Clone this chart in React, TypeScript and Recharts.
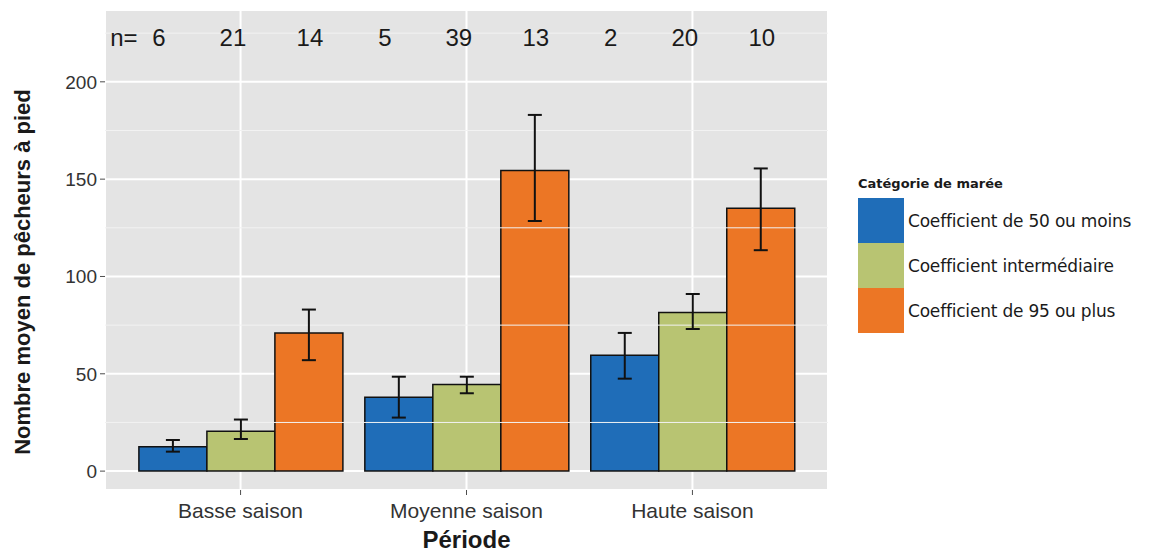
import { BarChart, Bar, XAxis, YAxis, CartesianGrid, Legend, ErrorBar, LabelList, ReferenceLine } from "recharts"

const periods = ["Basse saison", "Moyenne saison", "Haute saison"]
const seriesNames = ["Coefficient de 50 ou moins", "Coefficient intermédiaire", "Coefficient de 95 ou plus"]
const seriesColors = ["#1f6db8", "#b8c472", "#ec7625"]

// mean, lower and upper bound of error bars, sample size for each category
const lowMean = [12.5, 38, 59.5]
const lowLower = [10, 27.5, 47.5]
const lowUpper = [16, 48.5, 71]
const lowN = [6, 5, 2]

const midMean = [20.5, 44.5, 81.5]
const midLower = [16.5, 40, 73]
const midUpper = [26.5, 48.5, 91]
const midN = [21, 39, 20]

const highMean = [71, 154.5, 135]
const highLower = [57, 128.5, 113.5]
const highUpper = [83, 183, 155.5]
const highN = [14, 13, 10]

const yTicks = [0, 50, 100, 150, 200]
const yMinor = [25, 75, 125, 175, 225]

const means = [lowMean, midMean, highMean]
const lowers = [lowLower, midLower, highLower]
const uppers = [lowUpper, midUpper, highUpper]
const counts = [lowN, midN, highN]

const data = periods.map((period, i) => {
  const row: any = { period }
  means.forEach((m, s) => {
    row[`s${s}`] = m[i]
    row[`s${s}err`] = [m[i] - lowers[s][i], uppers[s][i] - m[i]]
    row[`s${s}n`] = counts[s][i]
  })
  return row
})

const nShift = [-14, -8, 1]
const SANS = "'Liberation Sans', Arial, sans-serif"

const makeCountLabel = (s: number) => (props: any) => {
  const { x, width, value, index } = props
  const cx = x + width / 2 + nShift[s]
  return (
    <g>
      {s === 0 && index === 0 && (
        <text x={cx - 35} y={29} dy="0.36em" textAnchor="middle" fontSize={24} fill="#1a1a1a" fontFamily={SANS}>
          n=
        </text>
      )}
      <text x={cx} y={29} dy="0.36em" textAnchor="middle" fontSize={24} fill="#1a1a1a" fontFamily={SANS}>
        {value}
      </text>
    </g>
  )
}

function LegendBox() {
  return (
    <div style={{ fontFamily: "'DejaVu Sans', sans-serif", color: "#1a1a1a" }}>
      <div style={{ fontWeight: "bold", fontSize: 13, marginBottom: 7 }}>Catégorie de marée</div>
      {seriesNames.map((name, i) => (
        <div key={name} style={{ display: "flex", alignItems: "center", height: 45 }}>
          <div style={{ width: 46, height: 45, background: seriesColors[i] }} />
          <span style={{ marginLeft: 4, fontSize: 17, letterSpacing: -0.2 }}>{name}</span>
        </div>
      ))}
    </div>
  )
}

export default function App() {
  return (
    <div style={{ width: 1142, height: 546 }}>
      <BarChart
        width={1142}
        height={546}
        data={data}
        margin={{ top: 2, right: 322, bottom: 0, left: 0 }}
        barCategoryGap="5%"
        barGap={0}
      >
        <CartesianGrid fill="#e4e4e4" stroke="#ffffff" strokeWidth={2} />
        {yMinor.map((v) => (
          <ReferenceLine key={v} y={v} stroke="#f2f2f2" strokeWidth={1} />
        ))}
        <XAxis
          dataKey="period"
          height={64}
          padding={{ left: 22.6, right: 22.6 }}
          axisLine={false}
          tickLine={{ stroke: "#4d4d4d" }}
          tickSize={5}
          tick={{ fill: "#333333", fontSize: 21, fontFamily: SANS }}
          tickMargin={8}
          label={{
            value: "Période",
            position: "insideBottom",
            offset: 6,
            fontSize: 24,
            fontWeight: "bold",
            fill: "#1a1a1a",
            fontFamily: SANS,
          }}
        />
        <YAxis
          width={97}
          domain={[-9.7, 236.9]}
          ticks={yTicks}
          allowDataOverflow
          axisLine={false}
          tickLine={{ stroke: "#4d4d4d" }}
          tickSize={5}
          tickMargin={3}
          tick={{ fill: "#333333", fontSize: 19, fontFamily: SANS }}
          label={({ viewBox }: any) => (
            <text
              x={viewBox.x + 14}
              y={264}
              transform={`rotate(-90, ${viewBox.x + 14}, 264)`}
              textAnchor="middle"
              dominantBaseline="central"
              fontSize={22}
              fontWeight="bold"
              fill="#1a1a1a"
              fontFamily={SANS}
            >
              Nombre moyen de pêcheurs à pied
            </text>
          )}
        />
        <Legend
          layout="horizontal"
          verticalAlign="middle"
          align="center"
          wrapperStyle={{ left: 850, top: 168, width: 292 }}
          content={() => <LegendBox />}
        />
        {seriesNames.map((name, s) => (
          <Bar
            key={name}
            name={name}
            dataKey={`s${s}`}
            fill={seriesColors[s]}
            stroke="#111111"
            strokeWidth={1.5}
            isAnimationActive={false}
          >
            <ErrorBar dataKey={`s${s}err`} direction="y" width={7} stroke="#111111" strokeWidth={2} />
            <LabelList dataKey={`s${s}n`} content={makeCountLabel(s)} />
          </Bar>
        ))}
      </BarChart>
    </div>
  )
}
